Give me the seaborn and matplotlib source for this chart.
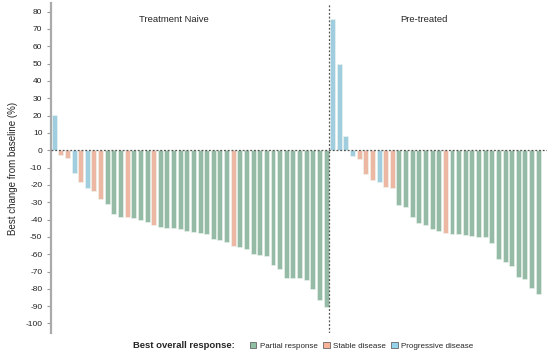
import numpy as np
import pandas as pd
import matplotlib.pyplot as plt
import seaborn as sns
from matplotlib.patches import Patch

# best % change from baseline, sorted as in the waterfall
naive_vals = [20.2, -2.5, -4.4, -13.4, -18.2, -22.0, -23.6, -28.2, -31.3, -36.9,
              -38.4, -38.4, -39.4, -40.3, -41.7, -43.2, -44.2, -44.6, -45.1, -45.7,
              -46.5, -47.1, -47.5, -48.6, -51.3, -51.9, -53.2, -55.3, -55.7, -57.2,
              -60.0, -60.5, -61.0, -66.3, -68.8, -73.5, -74.0, -74.0, -75.0, -80.0,
              -86.5, -90.7]
naive_resp = (['PD', 'SD', 'SD', 'PD', 'SD', 'PD', 'SD', 'SD', 'PR', 'PR',
               'PR', 'SD', 'PR', 'PR', 'PR', 'SD'] + ['PR'] * 11 + ['SD'] + ['PR'] * 14)

pre_vals = [75.9, 50.0, 8.1, -3.3, -5.2, -13.8, -17.3, -18.6, -21.5, -21.9,
            -31.7, -33.0, -38.8, -41.9, -43.2, -45.5, -46.5, -47.5, -48.4, -48.6,
            -49.0, -49.4, -50.0, -50.1, -53.4, -63.0, -64.4, -66.9, -73.4, -74.5,
            -79.4, -83.2]
pre_resp = (['PD', 'PD', 'PD', 'PD', 'SD', 'SD', 'SD', 'PD', 'SD', 'SD']
            + ['PR'] * 7 + ['SD'] + ['PR'] * 14)

labels = {'PR': 'Partial response', 'SD': 'Stable disease', 'PD': 'Progressive disease'}
colors = {'PR': '#8fc0a4', 'SD': '#f8b398', 'PD': '#95d3ea'}

vals = naive_vals + pre_vals
resp = naive_resp + pre_resp
df = pd.DataFrame({'pos': np.arange(len(vals)), 'value': vals, 'response': resp})

sns.set_style('white')
plt.rcParams['font.family'] = ['Liberation Sans', 'DejaVu Sans']
plt.rcParams['axes.unicode_minus'] = False

fig = plt.figure(figsize=(5.54, 3.56), dpi=100)
ax = fig.add_axes([0.0915, 0.0646, 0.8955, 0.927])

sns.barplot(data=df, x='pos', y='value', hue='response', palette=colors,
            dodge=False, width=0.75, legend=False, ax=ax,
            edgecolor='#eef6f1', linewidth=0.4)

ax.set_xlim(-0.53, 74.3)
ax.set_ylim(-105.5, 85)
ax.set_yticks(np.arange(-100, 81, 10))
ax.set_xticks([])
ax.set_xlabel('')
ax.set_ylabel('Best change from baseline (%)', fontsize=7, labelpad=5)
ax.tick_params(axis='y', labelsize=6, length=3, width=0.8, color='#999999',
               left=True, pad=3, labelcolor='#222222')

for s in ['top', 'right', 'bottom']:
    ax.spines[s].set_visible(False)
ax.spines['left'].set_color('#aaaaaa')
ax.spines['left'].set_linewidth(1.6)

ax.axhline(0, color='#555555', lw=0.9, ls=(0, (1.5, 1.5)), zorder=3)
ax.axvline(len(naive_vals) - 0.5, color='#555555', lw=0.9, ls=(0, (1.5, 1.5)), zorder=3)

ax.text(18.1, 75.5, 'Treatment Naive', fontsize=6.8, ha='center', va='center')
ax.text(55.8, 75.5, 'Pre-treated', fontsize=6.8, ha='center', va='center')

fig.text(133 / 554, 1 - 346 / 356, 'Best overall response:', fontsize=6.8,
         fontweight='bold', ha='left', va='center')
handles = [Patch(facecolor=colors[k], edgecolor='#666666', linewidth=0.6, label=labels[k])
           for k in ['PR', 'SD', 'PD']]
fig.legend(handles=handles, ncol=3, frameon=False, fontsize=5.8,
           loc='center left', bbox_to_anchor=(250 / 554, 1 - 346 / 356),
           handlelength=0.8, handleheight=0.8, handletextpad=0.4,
           columnspacing=0.7, borderaxespad=0, borderpad=0)

fig.savefig('out.png', dpi=100)
